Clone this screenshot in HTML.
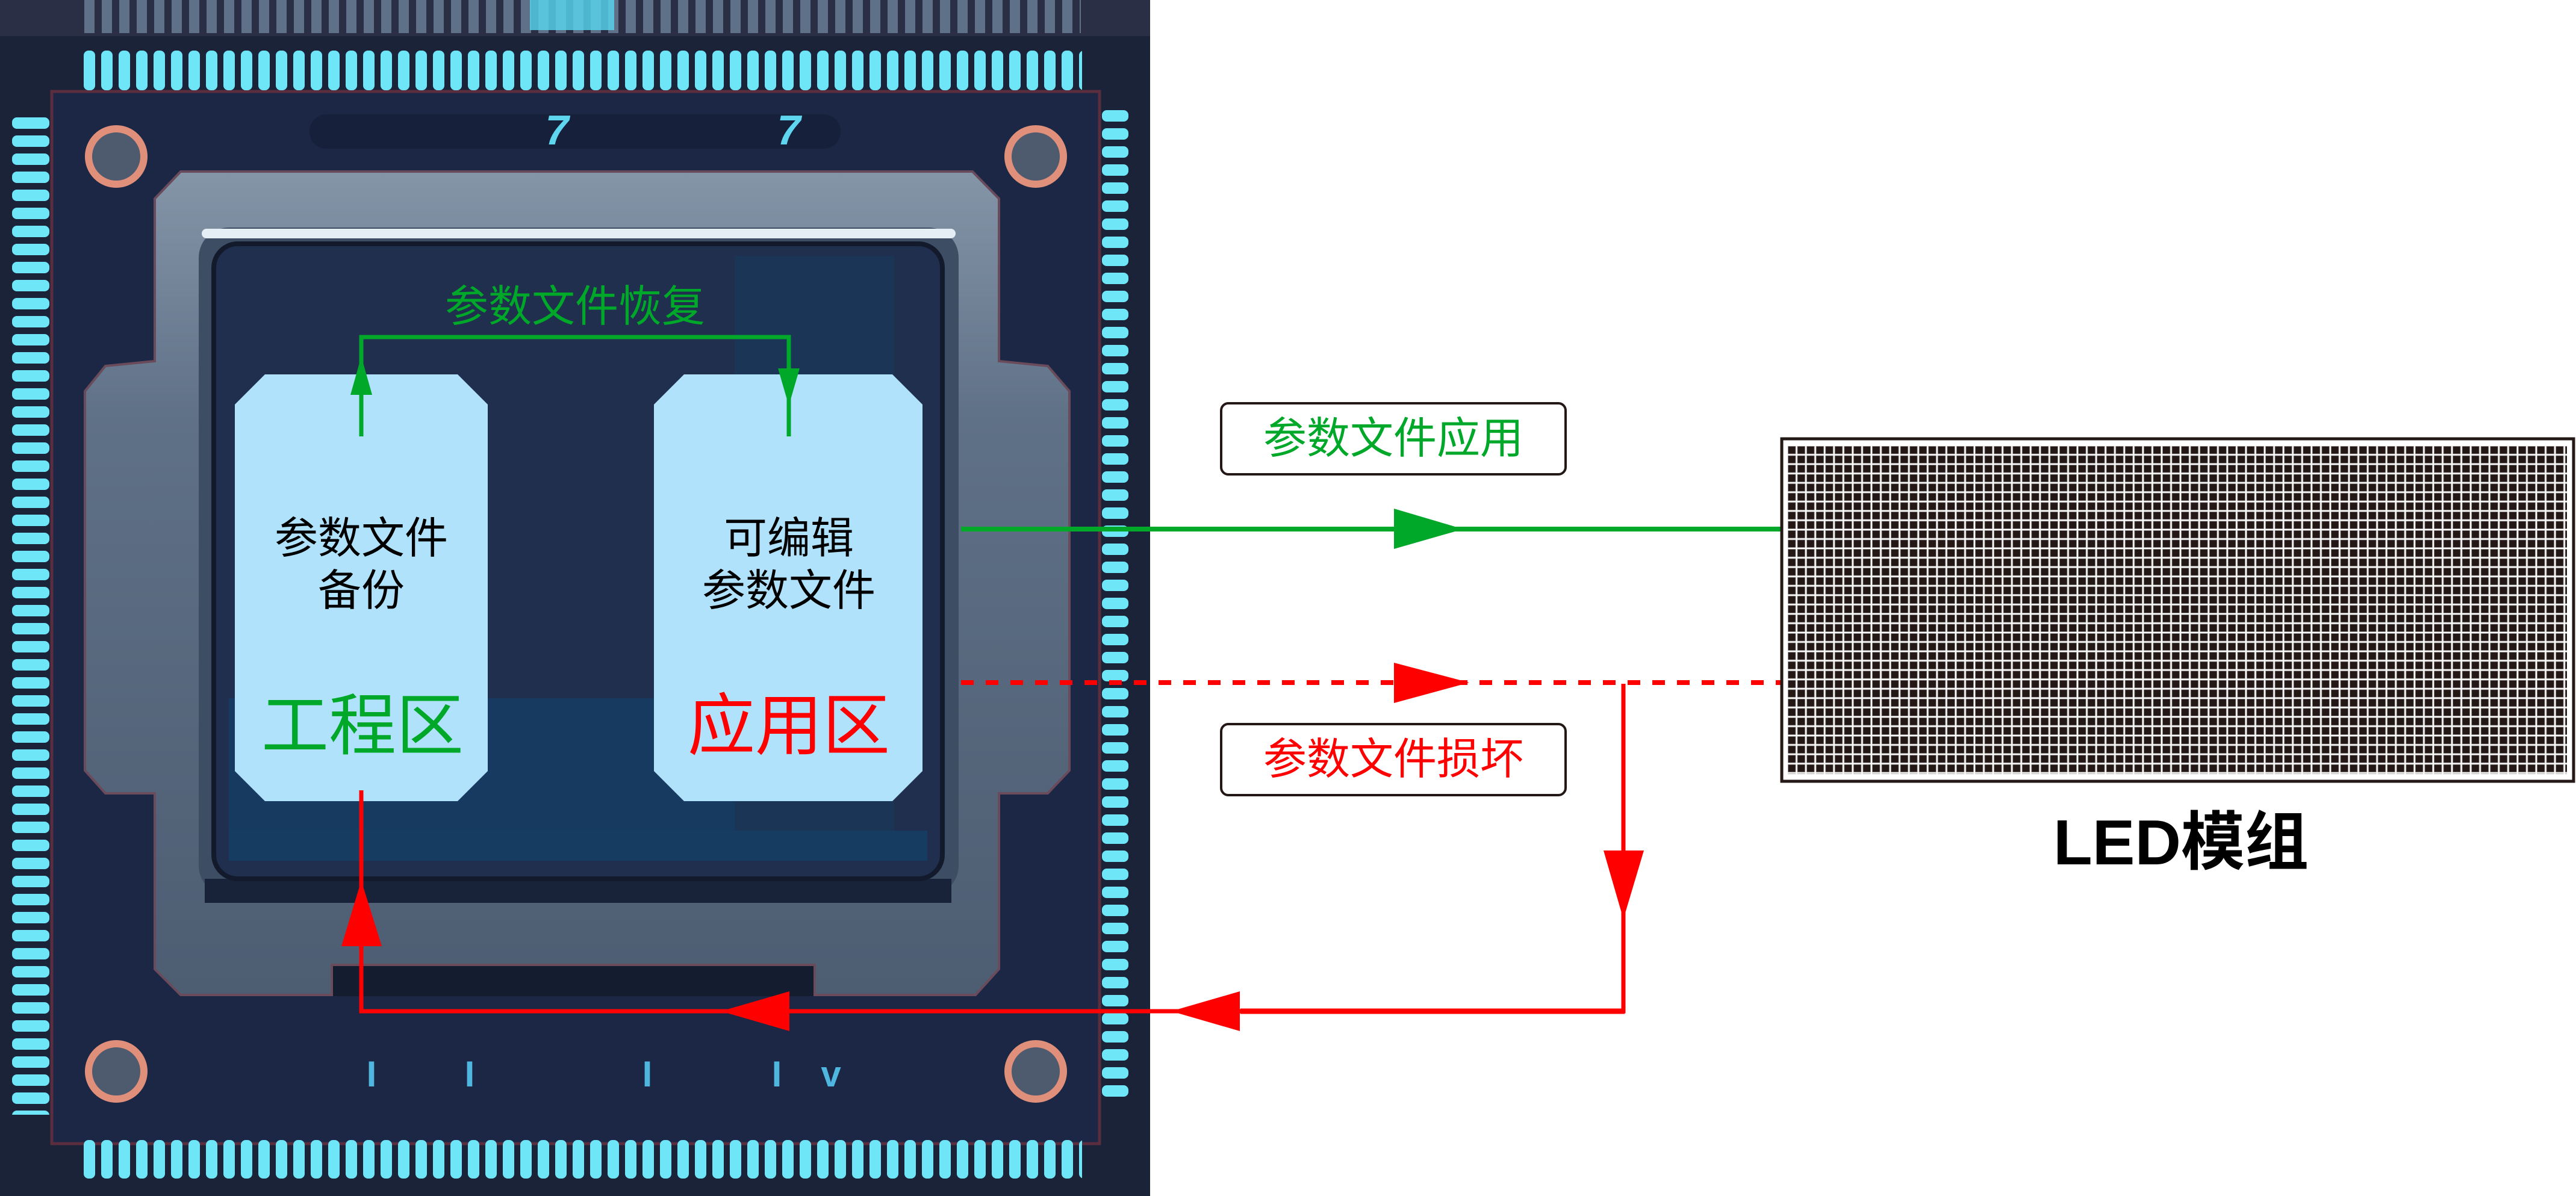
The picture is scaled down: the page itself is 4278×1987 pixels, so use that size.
<!DOCTYPE html>
<html><head><meta charset="utf-8"><style>
html,body{margin:0;padding:0;background:#fff;width:4278px;height:1987px;overflow:hidden;}
svg{display:block;}
text{font-family:"Liberation Sans","Noto Sans CJK SC",sans-serif;}
</style></head><body>
<svg width="4278" height="1987" viewBox="0 0 4278 1987" xmlns="http://www.w3.org/2000/svg">
<defs>
<pattern id="pt" x="135" y="0" width="29" height="200" patternUnits="userSpaceOnUse"><rect x="4" y="84" width="19" height="66" rx="8" fill="#6fe6f8"/></pattern>
<pattern id="ptg" x="135" y="0" width="29" height="200" patternUnits="userSpaceOnUse"><rect x="5" y="0" width="17" height="55" fill="#5f7189"/></pattern>
<pattern id="pl" x="0" y="190" width="200" height="30" patternUnits="userSpaceOnUse"><rect x="20" y="5" width="62" height="19" rx="8" fill="#6fe6f8"/></pattern>
<pattern id="prr" x="0" y="178" width="2000" height="30" patternUnits="userSpaceOnUse"><rect x="1830" y="5" width="44" height="19" rx="8" fill="#6fe6f8"/></pattern>
<pattern id="pb" x="135" y="1894" width="29" height="64" patternUnits="userSpaceOnUse"><rect x="4" y="0" width="19" height="64" rx="8" fill="#6fe6f8"/></pattern>
<pattern id="led" x="2969" y="741" width="15.55" height="15.55" patternUnits="userSpaceOnUse"><rect x="0" y="0" width="15.55" height="15.55" fill="#fff"/><rect x="0.5" y="0.5" width="12.5" height="12.5" fill="#231815" stroke="#8a8585" stroke-width="0.8"/></pattern>
<linearGradient id="fr" x1="0" y1="0" x2="0" y2="1"><stop offset="0" stop-color="#8495a8"/><stop offset="0.3" stop-color="#5f7187"/><stop offset="1" stop-color="#4d5d72"/></linearGradient>
</defs>

<rect x="0" y="0" width="1910" height="1987" fill="#1b2339"/>
<rect x="0" y="0" width="1910" height="60" fill="#2a2f45"/>
<rect x="135" y="0" width="1660" height="56" fill="url(#ptg)"/>
<rect x="880" y="0" width="140" height="50" fill="#58d8f0" opacity="0.8"/>
<rect x="86" y="152" width="1740" height="1748" fill="#1b2744" stroke="#5a2e3e" stroke-width="5"/>
<rect x="135" y="82" width="1662" height="70" fill="url(#pt)"/>
<rect x="0" y="190" width="90" height="1662" fill="url(#pl)"/>
<rect x="1826" y="178" width="60" height="1650" fill="url(#prr)"/>
<rect x="135" y="1894" width="1662" height="64" fill="url(#pb)"/>

<g fill="#4e5a6e" stroke="#e0907a" stroke-width="12">
<circle cx="193" cy="260" r="46"/><circle cx="1720" cy="260" r="46"/>
<circle cx="193" cy="1780" r="46"/><circle cx="1720" cy="1780" r="46"/>
</g>
<rect x="514" y="190" width="882" height="57" rx="28" fill="#16203a"/>
<text x="925" y="240" font-size="70" font-style="italic" font-weight="bold" fill="#5fd6f0" text-anchor="middle">7</text>
<text x="1310" y="240" font-size="70" font-style="italic" font-weight="bold" fill="#5fd6f0" text-anchor="middle">7</text>

<polygon points="300,285 1615,285 1659,330 1659,600 1740,608 1776,650 1776,1280 1740,1318 1659,1318 1659,1610 1620,1653 1353,1653 1353,1603 551,1603 551,1653 300,1653 257,1610 257,1318 175,1318 141,1280 141,650 175,608 257,600 257,330" fill="url(#fr)" stroke="#6a4b5c" stroke-width="4"/>
<rect x="553" y="1605" width="798" height="50" fill="#141d30"/>
<rect x="330" y="378" width="1262" height="1110" rx="50" fill="#3d4d63"/>
<rect x="335" y="380" width="1252" height="16" rx="8" fill="#e6eef5"/>
<rect x="340" y="1460" width="1240" height="40" fill="#182238"/>
<rect x="355" y="405" width="1210" height="1055" rx="40" fill="#1f2f4d" stroke="#121a2c" stroke-width="8"/>
<rect x="380" y="1160" width="840" height="270" fill="#163a60"/>
<rect x="1220" y="425" width="265" height="960" fill="#1a3556"/>
<rect x="380" y="1380" width="1160" height="50" fill="#173c62"/>

<polygon points="440,622 760,622 810,672 810,1281 760,1331 440,1331 390,1281 390,672" fill="#b0e2fc"/>
<polygon points="1136,622 1482,622 1532,672 1532,1281 1482,1331 1136,1331 1086,1281 1086,672" fill="#b0e2fc"/>

<text x="600" y="895" font-size="72" fill="#000" text-anchor="middle" dominant-baseline="central">参数文件</text>
<text x="600" y="982" font-size="72" fill="#000" text-anchor="middle" dominant-baseline="central">备份</text>
<text x="602" y="1206" font-size="112" fill="#00a82a" text-anchor="middle" dominant-baseline="central">工程区</text>
<text x="1310" y="895" font-size="72" fill="#000" text-anchor="middle" dominant-baseline="central">可编辑</text>
<text x="1310" y="982" font-size="72" fill="#000" text-anchor="middle" dominant-baseline="central">参数文件</text>
<text x="1310" y="1206" font-size="112" fill="#ff0000" text-anchor="middle" dominant-baseline="central">应用区</text>

<text x="955" y="510" font-size="72" fill="#00a82a" text-anchor="middle" dominant-baseline="central">参数文件恢复</text>
<polyline points="600,725 600,560 1310,560 1310,725" fill="none" stroke="#00a82a" stroke-width="7"/>
<polygon points="600,592 582,656 618,656" fill="#00a82a"/>
<polygon points="1310,674 1292,612 1328,612" fill="#00a82a"/>

<g fill="#4fb6e0" font-size="60" font-weight="bold" text-anchor="middle">
<text x="617" y="1805">I</text><text x="780" y="1805">I</text><text x="1075" y="1805">I</text><text x="1290" y="1805">I</text><text x="1380" y="1805">v</text>
</g>

<line x1="1596" y1="879" x2="2962" y2="879" stroke="#00a82a" stroke-width="8"/>
<polygon points="2315,845 2430,879 2315,912" fill="#00a82a"/>
<rect x="2028" y="670" width="572" height="118" rx="12" fill="#fff" stroke="#231815" stroke-width="4"/>
<text x="2314" y="729" font-size="72" fill="#00a82a" text-anchor="middle" dominant-baseline="central">参数文件应用</text>

<line x1="1596" y1="1134" x2="2962" y2="1134" stroke="#ff0000" stroke-width="8" stroke-dasharray="21,20"/>
<polygon points="2315,1101 2440,1134 2315,1168" fill="#ff0000"/>
<rect x="2028" y="1203" width="572" height="118" rx="12" fill="#fff" stroke="#231815" stroke-width="4"/>
<text x="2314" y="1262" font-size="72" fill="#ff0000" text-anchor="middle" dominant-baseline="central">参数文件损坏</text>
<polyline points="2696,1136 2696,1680 600,1680 600,1313" fill="none" stroke="#ff0000" stroke-width="7"/>
<line x1="2060" y1="1680" x2="2698" y2="1680" stroke="#ff0000" stroke-width="9"/>
<polygon points="2663,1413 2730,1413 2696,1527" fill="#ff0000"/>
<polygon points="1945,1680 2059,1647 2059,1713" fill="#ff0000"/>
<polygon points="1197,1680 1311,1647 1311,1713" fill="#ff0000"/>
<polygon points="600,1463 567,1572 634,1572" fill="#ff0000"/>

<rect x="2959" y="729" width="1315" height="569" fill="#fff" stroke="#231815" stroke-width="5"/>
<rect x="2969" y="741" width="1294" height="545" fill="url(#led)"/>
<text x="3622" y="1400" font-size="106" font-weight="bold" fill="#000" text-anchor="middle" dominant-baseline="central">LED模组</text>
</svg>
</body></html>
